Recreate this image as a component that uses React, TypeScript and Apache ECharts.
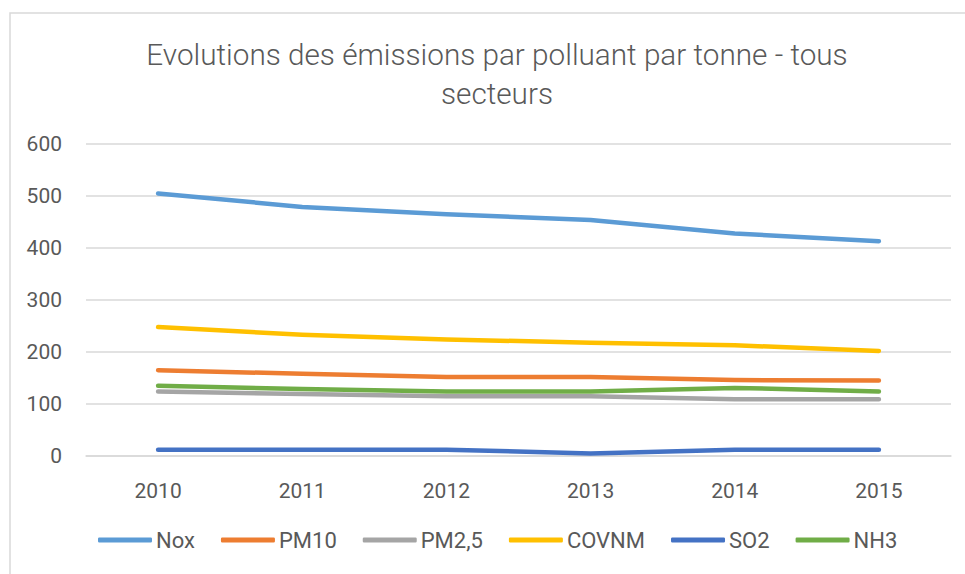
import React, { useEffect, useRef } from "react";
import * as echarts from "echarts";

const years = ["2010", "2011", "2012", "2013", "2014", "2015"];
const nox = [505, 479, 465, 454, 428, 413];
const pm10 = [165, 158, 152, 152, 146, 145];
const pm25 = [124, 119, 115, 115, 109, 109];
const covnm = [248, 233, 224, 218, 213, 202];
const so2 = [12, 12, 12, 5, 12, 12];
const nh3 = [135, 129, 124, 124, 131, 124];

const seriesNames = ["Nox", "PM10", "PM2,5", "COVNM", "SO2", "NH3"];
const seriesData = [nox, pm10, pm25, covnm, so2, nh3];
const colors = ["#5B9BD5", "#ED7D31", "#A5A5A5", "#FFC000", "#4472C4", "#70AD47"];
const yTicks = { min: 0, max: 600, interval: 100 };
const titleText = "Evolutions des émissions par polluant par tonne - tous\nsecteurs";

export default function App() {
  const ref = useRef<HTMLDivElement>(null);
  useEffect(() => {
    if (!ref.current) return;
    const chart = echarts.init(ref.current, undefined, { renderer: "svg" });
    const font = "Roboto, 'Noto Sans', sans-serif";
    chart.setOption({
      animation: false,
      backgroundColor: "#ffffff",
      color: colors,
      title: {
        text: titleText,
        left: 492,
        textAlign: "center",
        top: 30,
        textStyle: {
          fontFamily: font,
          fontWeight: 300,
          fontSize: 29.7,
          color: "#595959",
          lineHeight: 39,
        },
      },
      graphic: [
        {
          type: "rect",
          shape: { x: 10, y: 13, width: 1000, height: 620 },
          style: { fill: "none", stroke: "#d9d9d9", lineWidth: 1.5 },
          silent: true,
        },
      ],
      legend: {
        data: seriesNames,
        bottom: 18,
        left: 93,
        icon: "roundRect",
        itemWidth: 54,
        itemHeight: 5,
        itemGap: 26,
        textStyle: { fontFamily: font, fontSize: 22, color: "#595959", padding: [0, 0, 0, -1] },
      },
      grid: { left: 86, right: 14, top: 144, bottom: 118, containLabel: false },
      xAxis: {
        type: "category",
        data: years,
        boundaryGap: true,
        axisLine: { show: true, lineStyle: { color: "#d9d9d9", width: 1.5 } },
        axisTick: { show: false },
        axisLabel: { fontFamily: font, fontSize: 21, color: "#595959", margin: 24 },
      },
      yAxis: {
        type: "value",
        min: yTicks.min,
        max: yTicks.max,
        interval: yTicks.interval,
        axisLine: { show: false },
        axisTick: { show: false },
        splitLine: { lineStyle: { color: "#d9d9d9", width: 1.5 } },
        axisLabel: { fontFamily: font, fontSize: 21, color: "#595959", margin: 24 },
      },
      series: seriesNames.map((name, i) => ({
        name,
        type: "line",
        data: seriesData[i],
        symbol: "none",
        smooth: false,
        lineStyle: { width: 4.5, color: colors[i], cap: "round", join: "round" },
        itemStyle: { color: colors[i] },
      })),
    });
    return () => chart.dispose();
  }, []);
  return (
    <div
      ref={ref}
      style={{ position: "fixed", left: 0, top: 0, width: 965, height: 574 }}
    />
  );
}
